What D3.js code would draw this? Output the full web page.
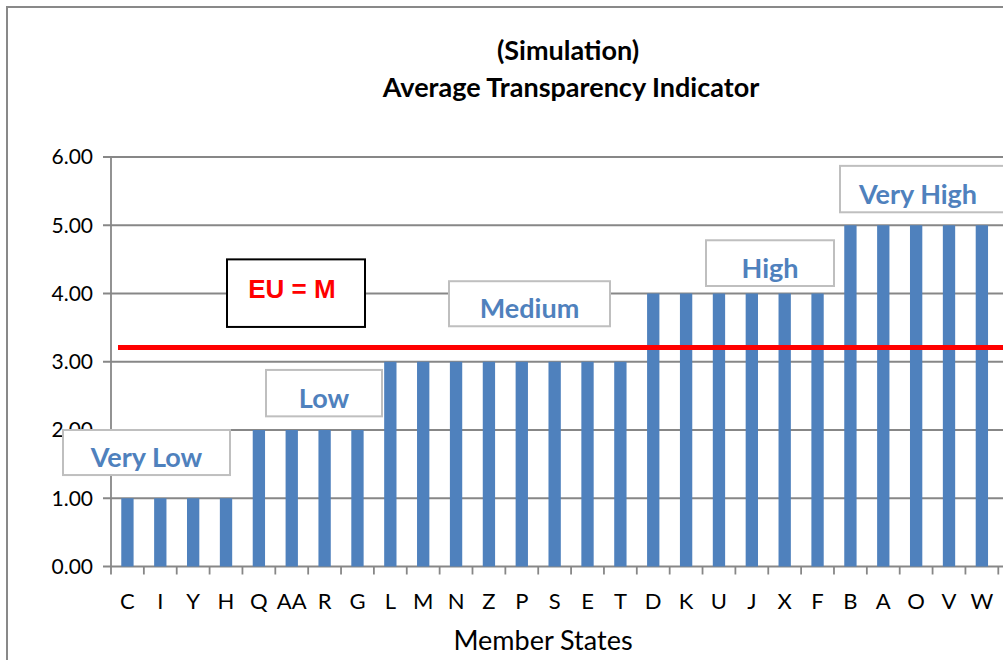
<!DOCTYPE html>
<html>
<head>
    <script src="https://cdnjs.cloudflare.com/ajax/libs/d3/7.8.5/d3.min.js"></script>
    <style>
        body { margin: 0; background: #fff; }
        text { font-family: Lato, "Open Sans", sans-serif; }
    </style>
</head>
<body>
    <div id="chart"></div>
    <script>
        // Data
        const categories = ["C", "I", "Y", "H", "Q", "AA", "R", "G", "L", "M", "N", "Z", "P", "S",
                            "E", "T", "D", "K", "U", "J", "X", "F", "B", "A", "O", "V", "W"];
        const values = [1, 1, 1, 1, 2, 2, 2, 2, 3, 3, 3, 3, 3, 3, 3, 3, 4, 4, 4, 4, 4, 4, 5, 5, 5, 5, 5];
        const yTicks = [0, 1, 2, 3, 4, 5, 6];
        const euValue = 3.21;
        const euLabel = "EU = M";
        // group label boxes: text, left/right edge in px, top/bottom in value units
        const groupLabels = [
            { text: "Very Low", x0: 63, x1: 230, top: 2.0, bottom: 1.34 },
            { text: "Low", x0: 266, x1: 382, top: 2.88, bottom: 2.2 },
            { text: "Medium", x0: 449, x1: 610, top: 4.18, bottom: 3.52 },
            { text: "High", x0: 706, x1: 834, top: 4.78, bottom: 4.11 },
            { text: "Very High", x0: 840, x1: 1010, top: 5.87, bottom: 5.19, cx: 918 }
        ];

        const width = 1003, height = 660;
        const svg = d3.select("#chart").append("svg")
            .attr("width", width).attr("height", height);

        // outer chart border
        svg.append("rect")
            .attr("x", 7).attr("y", 7)
            .attr("width", 1020).attr("height", 680)
            .attr("fill", "none").attr("stroke", "#898989").attr("stroke-width", 2);

        const x = d3.scaleBand()
            .domain(categories)
            .range([111, 998.3])
            .paddingInner(0.625)
            .paddingOuter(0.3125);
        const y = d3.scaleLinear().domain([0, 6]).range([566.5, 157]);

        // title
        const title = svg.append("text")
            .attr("text-anchor", "middle")
            .style("font-weight", "bold").style("font-size", "27px").attr("fill", "#000");
        title.append("tspan").attr("x", 568).attr("y", 60).text("(Simulation)");
        title.append("tspan").attr("x", 571).attr("y", 97).text("Average Transparency Indicator");

        // gridlines + y ticks
        svg.append("g").selectAll("line")
            .data(yTicks).join("line")
            .attr("x1", 103).attr("x2", width)
            .attr("y1", d => y(d)).attr("y2", d => y(d))
            .attr("stroke", "#878787").attr("stroke-width", 1.8);

        svg.append("g").selectAll("text")
            .data(yTicks).join("text")
            .attr("x", 93).attr("y", d => y(d))
            .attr("dy", "0.35em")
            .attr("text-anchor", "end")
            .style("font-size", "21px")
            .text(d => d.toFixed(2));

        // y axis line
        svg.append("line")
            .attr("x1", 111).attr("x2", 111)
            .attr("y1", y(6)).attr("y2", y(0))
            .attr("stroke", "#878787").attr("stroke-width", 1.8);

        // x ticks at band boundaries
        const step = x.step();
        const bounds = d3.range(categories.length + 1).map(i => x.range()[0] + i * step);
        svg.append("g").selectAll("line")
            .data(bounds).join("line")
            .attr("x1", d => d).attr("x2", d => d)
            .attr("y1", y(0)).attr("y2", y(0) + 8)
            .attr("stroke", "#878787").attr("stroke-width", 1.8);

        // bars
        svg.append("g").selectAll("rect")
            .data(values).join("rect")
            .attr("x", (d, i) => x(categories[i]))
            .attr("width", x.bandwidth())
            .attr("y", d => y(d))
            .attr("height", d => y(0) - y(d))
            .attr("fill", "#4F81BD");

        // category labels
        svg.append("g").selectAll("text")
            .data(categories).join("text")
            .attr("x", d => x(d) + x.bandwidth() / 2)
            .attr("y", 609)
            .attr("text-anchor", "middle")
            .style("font-size", "22px")
            .text(d => d);

        // axis title
        svg.append("text")
            .attr("x", 543).attr("y", 650)
            .attr("text-anchor", "middle")
            .style("font-size", "27px")
            .text("Member States");

        // EU average line
        svg.append("line")
            .attr("x1", 118).attr("x2", width)
            .attr("y1", y(euValue)).attr("y2", y(euValue))
            .attr("stroke", "#FF0000").attr("stroke-width", 5);

        // group label boxes
        const gl = svg.append("g").selectAll("g")
            .data(groupLabels).join("g");
        gl.append("rect")
            .attr("x", d => d.x0).attr("width", d => d.x1 - d.x0)
            .attr("y", d => y(d.top)).attr("height", d => y(d.bottom) - y(d.top))
            .attr("fill", "#fff").attr("stroke", "#BFBFBF").attr("stroke-width", 2);
        gl.append("text")
            .attr("x", d => d.cx || (d.x0 + d.x1) / 2)
            .attr("y", d => y(d.bottom) - 8)
            .attr("text-anchor", "middle")
            .style("font-weight", "bold").style("font-size", "27px")
            .attr("fill", "#4F81BD")
            .text(d => d.text);

        // EU label box
        svg.append("rect")
            .attr("x", 227).attr("y", y(4.5))
            .attr("width", 138).attr("height", y(3.51) - y(4.5))
            .attr("fill", "#fff").attr("stroke", "#000").attr("stroke-width", 2);
        svg.append("text")
            .attr("x", 292).attr("y", 298)
            .attr("text-anchor", "middle")
            .style("font-family", "'Liberation Sans', Arial, sans-serif")
            .style("font-weight", "bold").style("font-size", "26px")
            .attr("fill", "#FF0000")
            .text(euLabel);
    </script>
</body>
</html>
